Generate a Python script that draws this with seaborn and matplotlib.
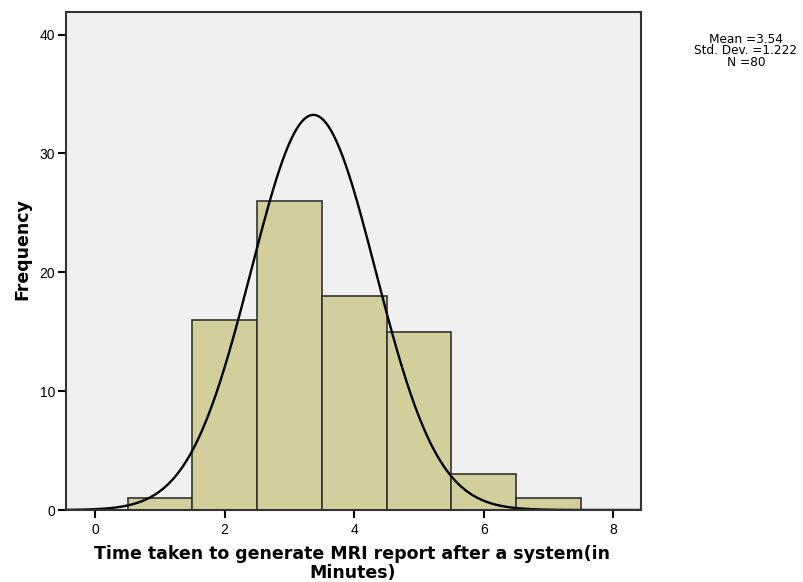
import numpy as np
import pandas as pd
import matplotlib
matplotlib.use("Agg")
import matplotlib.pyplot as plt
import seaborn as sns

# Data
bin_centers = [1, 2, 3, 4, 5, 6, 7]
counts = [1, 16, 26, 18, 15, 3, 1]
bin_edges = [0.5, 1.5, 2.5, 3.5, 4.5, 5.5, 6.5, 7.5]
x_ticks = [0, 2, 4, 6, 8]
y_ticks = [0, 10, 20, 30, 40]
stats_text = ["Mean =3.54", "Std. Dev. =1.222", "N =80"]
# normal curve as drawn (location / spread)
curve_mu = 3.37
curve_sd = 0.96
n_total = sum(counts)

sns.set_theme(style="white")
plt.rcParams['font.family'] = ['Liberation Sans', 'DejaVu Sans']

fig = plt.figure(figsize=(8.04, 5.82), dpi=100)
ax = fig.add_axes([66/804, 1 - 510/582, (641-66)/804, (510-12)/582])
ax.set_facecolor("#F0F0F0")

df = pd.DataFrame({"x": bin_centers, "w": counts})
sns.histplot(data=df, x="x", weights="w", bins=bin_edges, ax=ax,
             color="#D3CF9D", edgecolor="#333333", linewidth=1.2, alpha=1)

xs = np.linspace(-0.45, 8.43, 400)
ys = n_total * 1.0 / (curve_sd * np.sqrt(2 * np.pi)) * np.exp(-0.5 * ((xs - curve_mu) / curve_sd) ** 2)
sns.lineplot(x=xs, y=ys, ax=ax, color="black", linewidth=1.7)

ax.set_xlim(-0.45, 8.43)
ax.set_ylim(0, 41.9)
ax.set_xticks(x_ticks)
ax.set_yticks(y_ticks)
ax.tick_params(axis="both", direction="out", length=6, width=1.5, color="black",
               labelsize=10, labelcolor="black", bottom=True, left=True)
ax.tick_params(axis="x", pad=3)
ax.tick_params(axis="y", pad=2)
for s in ax.spines.values():
    s.set_color("#333333")
    s.set_linewidth(1.5)

ax.set_xlabel("Time taken to generate MRI report after a system(in\nMinutes)",
              fontsize=12.5, fontweight="bold", color="black", linespacing=1.08,
              family=["DejaVu Sans"])
ax.xaxis.set_label_coords((352.5 - 66) / 575, (510 - 545) / 498)
ax.xaxis.label.set_va("top")
ax.set_ylabel("Frequency", fontsize=12.5, fontweight="bold", color="black",
              family=["DejaVu Sans"])
ax.yaxis.set_label_coords((22 - 66) / 575, (510 - 249) / 498)
ax.yaxis.label.set_va("center")

fig.text(746/804, 1 - 51/582, "\n".join(stats_text), ha="center", va="center",
         fontsize=8.7, color="black", linespacing=0.85, family=["DejaVu Sans"])

fig.savefig("out.png", dpi=100)
